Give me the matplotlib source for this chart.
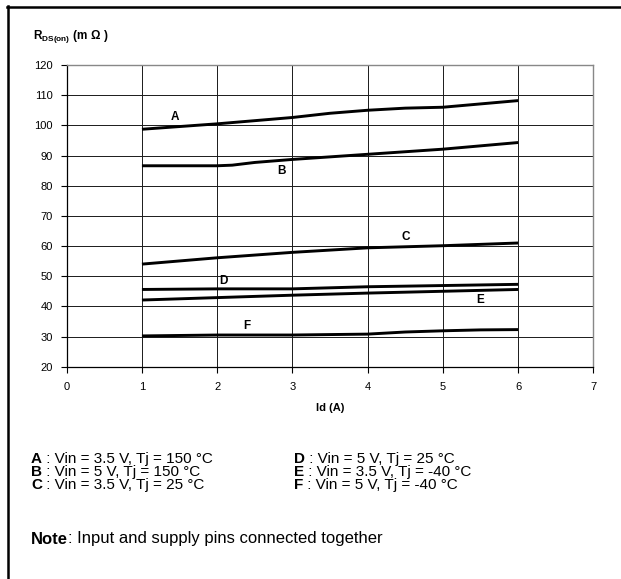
import numpy as np
import matplotlib
matplotlib.use('Agg')
import matplotlib.pyplot as plt
from matplotlib.lines import Line2D

plt.rcParams['font.family'] = ['Liberation Sans', 'DejaVu Sans']
plt.rcParams['mathtext.fontset'] = 'custom'
plt.rcParams['mathtext.rm'] = 'Liberation Sans'
plt.rcParams['mathtext.bf'] = 'Liberation Sans:bold'

# Id (A)
x_a = [1, 2, 3, 3.5, 4, 4.5, 5, 6]
rds_a = [98.7, 100.5, 102.6, 104.0, 105.0, 105.7, 106.0, 108.2]
x_b = [1, 2, 2.2, 2.5, 3, 4, 5, 6]
rds_b = [86.6, 86.6, 86.8, 87.7, 88.7, 90.4, 92.1, 94.3]
x_c = [1, 2, 3, 4, 5, 6]
rds_c = [54.0, 56.1, 57.9, 59.4, 60.1, 61.0]
x_d = [1, 2, 3, 4, 5, 6]
rds_d = [45.6, 45.8, 45.8, 46.5, 46.9, 47.3]
x_e = [1, 2, 3, 4, 5, 6]
rds_e = [42.1, 42.9, 43.7, 44.4, 45.0, 45.6]
x_f = [1, 2, 3, 4, 4.5, 5, 5.5, 6]
rds_f = [30.2, 30.5, 30.5, 30.8, 31.5, 31.9, 32.2, 32.3]

curve_names = ['A', 'B', 'C', 'D', 'E', 'F']
label_pos = [(1.44, 102.8), (2.85, 84.9), (4.51, 63.0), (2.09, 48.5), (5.5, 42.2), (2.4, 33.6)]

legend_left = [('A', ' : Vin = 3.5 V, Tj = 150 °C'),
               ('B', ' : Vin = 5 V, Tj = 150 °C'),
               ('C', ' : Vin = 3.5 V, Tj = 25 °C')]
legend_right = [('D', ' : Vin = 5 V, Tj = 25 °C'),
                ('E', ' : Vin = 3.5 V, Tj = -40 °C'),
                ('F', ' : Vin = 5 V, Tj = -40 °C')]

W, H = 621, 579
fig = plt.figure(figsize=(W / 100, H / 100), dpi=100)

# axes box in pixels: left 66.7, right 593.3, top 65, bottom 366.7
ax = fig.add_axes([66.7 / W, 1 - 366.7 / H, (593.3 - 66.7) / W, (366.7 - 65) / H])

xs = [x_a, x_b, x_c, x_d, x_e, x_f]
ys = [rds_a, rds_b, rds_c, rds_d, rds_e, rds_f]
for xx, yy in zip(xs, ys):
    ax.plot(xx, yy, color='black', lw=2.1, solid_capstyle='butt', zorder=3)

for name, (lx, ly) in zip(curve_names, label_pos):
    ax.text(lx, ly, name, fontsize=8.5, fontweight='bold', ha='center', va='center', zorder=4)

ax.set_xlim(0, 7)
ax.set_ylim(20, 120)
ax.set_xticks(range(0, 8))
ax.set_yticks(range(20, 121, 10))
ax.grid(True, color='#1a1a1a', lw=0.7)
ax.set_axisbelow(True)
ax.tick_params(axis='both', labelsize=8, length=4, width=0.8, color='black')
ax.tick_params(axis='y', pad=6)
ax.tick_params(axis='x', pad=7)
for s in ['top', 'right']:
    ax.spines[s].set_color('#888888')
    ax.spines[s].set_linewidth(1.0)
for s in ['left', 'bottom']:
    ax.spines[s].set_color('black')
    ax.spines[s].set_linewidth(0.9)

ax.set_xlabel('Id (A)', fontsize=8, fontweight='bold', labelpad=8)

fig.text(33 / W, 1 - 37 / H, r'$\mathbf{R_{DS(on)}}$ $\mathbf{(m\ \Omega\ )}$', fontsize=8.5,
         ha='left', va='center')

# outer frame (top and left)
fig.add_artist(Line2D([7 / W, 1], [1 - 7 / H, 1 - 7 / H], color='black', lw=1.8,
                      transform=fig.transFigure))
fig.add_artist(Line2D([8 / W, 8 / W], [0, 1 - 6 / H], color='black', lw=1.8,
                      transform=fig.transFigure))

# condition list under the chart
rows_y = [459, 472, 485]
for (k, t), yy in zip(legend_left, rows_y):
    tb = fig.text(31 / W, 1 - yy / H, k, fontsize=11, fontweight='bold', ha='left', va='center')
    fig.canvas.draw()
    bb = tb.get_window_extent()
    fig.text(bb.x1 / W, 1 - yy / H, t, fontsize=11, ha='left', va='center')
for (k, t), yy in zip(legend_right, rows_y):
    tb = fig.text(294 / W, 1 - yy / H, k, fontsize=11, fontweight='bold', ha='left', va='center')
    fig.canvas.draw()
    bb = tb.get_window_extent()
    fig.text(bb.x1 / W, 1 - yy / H, t, fontsize=11, ha='left', va='center')

tn = fig.text(31 / W, 1 - 539 / H, 'Note', fontsize=12, fontweight='bold', ha='left', va='center')
fig.canvas.draw()
bb = tn.get_window_extent()
fig.text(bb.x1 / W, 1 - 539 / H, ': Input and supply pins connected together', fontsize=12,
         ha='left', va='center')

fig.savefig('out.png', dpi=100)
